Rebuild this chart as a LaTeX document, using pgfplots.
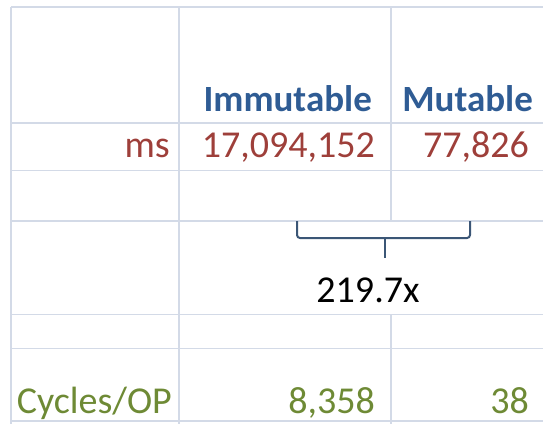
\documentclass[border=0pt]{standalone}
\usepackage{fontspec}
\setmainfont{Carlito}
\usepackage{pgfplots}
\pgfplotsset{compat=1.18}
\definecolor{gridc}{HTML}{D3DAE7}
\definecolor{hdr}{HTML}{2F5C94}
\definecolor{msred}{HTML}{9E3F3A}
\definecolor{cycg}{HTML}{6E8A35}
\definecolor{brc}{HTML}{3B5676}
\newcommand{\cf}{\fontsize{38bp}{42bp}\selectfont}
\newcommand{\hf}{\fontsize{37bp}{42bp}\selectfont\bfseries}
\begin{document}
\begin{tikzpicture}
\begin{axis}[
  scale only axis, width=543bp, height=424bp,
  xmin=0, xmax=543, ymin=0, ymax=424, y dir=reverse,
  hide axis, clip=false,
]
% horizontal cell borders
\foreach \yy in {7,123,170.5,221,314.5,348.5,421}{
  \edef\tmp{\noexpand\addplot[gridc, line width=1.6bp] coordinates {(11,\yy) (543,\yy)};}\tmp
}
% vertical cell borders
\addplot[gridc, line width=1.6bp] coordinates {(11,7) (11,424)};
\addplot[gridc, line width=1.6bp] coordinates {(179,7) (179,424)};
\addplot[gridc, line width=1.6bp] coordinates {(391,7) (391,221)};
\addplot[gridc, line width=1.6bp] coordinates {(391,314.5) (391,424)};
% brace
\addplot[brc, line width=2bp, rounded corners=3bp] coordinates {(297,221) (297,238) (470,238) (470,221)};
\addplot[brc, line width=2bp] coordinates {(385,238) (385,258)};
% header
\node[anchor=base east, inner sep=0pt, text=hdr, font=\hf] at (axis cs:372,112) {Immutable};
\node[anchor=base east, inner sep=0pt, text=hdr, font=\hf] at (axis cs:533,112) {Mutable};
% ms row
\node[anchor=base east, inner sep=0pt, text=msred, font=\cf] at (axis cs:170,157) {ms};
\node[anchor=base east, inner sep=0pt, text=msred, font=\cf] at (axis cs:375,157) {17,094,152};
\node[anchor=base east, inner sep=0pt, text=msred, font=\cf] at (axis cs:529,157) {77,826};
% ratio
\node[anchor=base, inner sep=0pt, text=black, font=\cf] at (axis cs:368,302) {219.7x};
% cycles row
\node[anchor=base east, inner sep=0pt, text=cycg, font=\cf] at (axis cs:172,413) {Cycles/OP};
\node[anchor=base east, inner sep=0pt, text=cycg, font=\cf] at (axis cs:375,413) {8,358};
\node[anchor=base east, inner sep=0pt, text=cycg, font=\cf] at (axis cs:529,413) {38};
\end{axis}
\pgfresetboundingbox
\useasboundingbox (current axis.south west) rectangle (current axis.north east);
\end{tikzpicture}
\end{document}
